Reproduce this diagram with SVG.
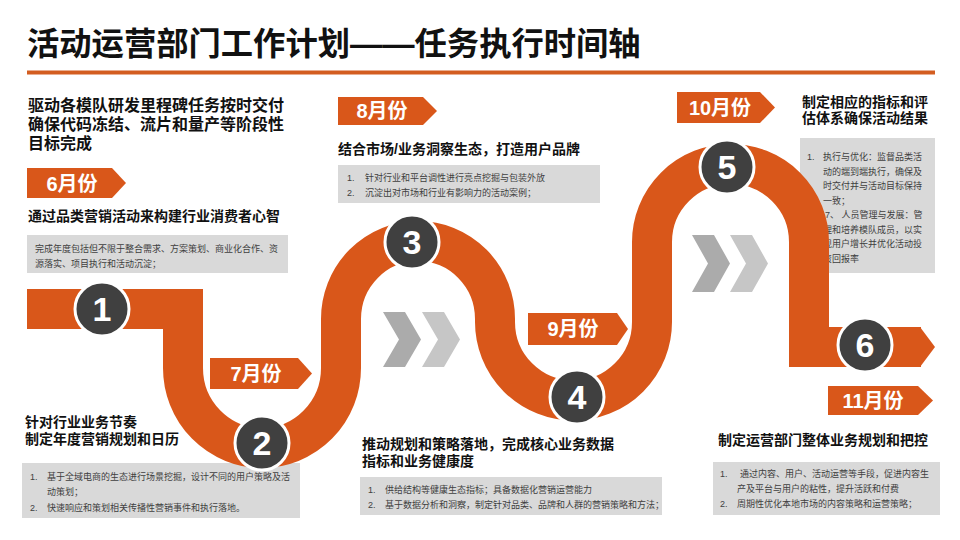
<svg xmlns="http://www.w3.org/2000/svg" width="960" height="540" viewBox="0 0 960 540">
<style>
.h{font-family:"Liberation Sans","Noto Sans CJK SC",sans-serif;font-weight:bold;fill:#111;font-size:14px}
.h16{font-size:16px}
.box{fill:#D9D9D9}
.t{font-family:"Liberation Sans","Noto Sans CJK SC",sans-serif;fill:#404040;font-size:9px}
.mon{fill:#D9571A}
.mt{font-family:"Liberation Sans","Noto Sans CJK SC",sans-serif;font-weight:bold;fill:#fff;font-size:20px;text-anchor:middle}
.c{fill:#404040;stroke:#fff;stroke-width:3}
.ct{font-family:"Liberation Sans","Noto Sans CJK SC",sans-serif;font-weight:bold;fill:#fff;font-size:34px;text-anchor:middle}
.chev1{fill:#ABABAB}
.chev2{fill:#C6C6C6}
</style>
<rect width="960" height="540" fill="#fff"/>
<g id="title">
<text x="27" y="55" font-family="Liberation Sans,Noto Sans CJK SC,sans-serif" font-weight="bold" font-size="32.3" fill="#111">活动运营部门工作计划——任务执行时间轴</text>
<rect x="27" y="70.5" width="908" height="4" fill="#D35D20"/>
</g>
<g id="boxes">
<rect class="box" x="27" y="235" width="261" height="38"/>
<rect class="box" x="338" y="165" width="262" height="38"/>
<rect class="box" x="800" y="138" width="135" height="135"/>
<rect class="box" x="22" y="463" width="278" height="55"/>
<rect class="box" x="360" y="477" width="302" height="38"/>
<rect class="box" x="713" y="462" width="227" height="53"/>
</g>
<g id="box-texts">
<text class="t" x="35" y="252">完成年度包括但不限于整合需求、方案策划、商业化合作、资</text>
<text class="t" x="35" y="267">源落实、项目执行和活动沉淀；</text>
<text class="t" x="347" y="181">1.</text><text class="t" x="365" y="181">针对行业和平台调性进行亮点挖掘与包装外放</text>
<text class="t" x="347" y="196">2.</text><text class="t" x="365" y="196">沉淀出对市场和行业有影响力的活动案例；</text>
<text class="t" x="807" y="160">1.</text>
<text class="t" x="823" y="160">执行与优化：监督品类活</text>
<text class="t" x="823" y="174.5">动的端到端执行，确保及</text>
<text class="t" x="823" y="189">时交付并与活动目标保持</text>
<text class="t" x="823" y="203.5">一致；</text>
<text class="t" x="825" y="218">7、 人员管理与发展：管</text>
<text class="t" x="823" y="232.5">理和培养模队成员，以实</text>
<text class="t" x="823" y="247">现用户增长并优化活动投</text>
<text class="t" x="823" y="261.5">资回报率</text>
<text class="t" x="30" y="480">1.</text><text class="t" x="47" y="480">基于全域电商的生态进行场景挖掘，设计不同的用户策略及活</text>
<text class="t" x="47" y="495">动策划；</text>
<text class="t" x="30" y="511">2.</text><text class="t" x="47" y="511">快速响应和策划相关传播性营销事件和执行落地。</text>
<text class="t" x="368" y="493">1.</text><text class="t" x="385" y="493">供给结构等健康生态指标；具备数据化营销运营能力</text>
<text class="t" x="368" y="508">2.</text><text class="t" x="385" y="508">基于数据分析和洞察，制定针对品类、品牌和人群的营销策略和方法；</text>
<text class="t" x="720" y="477">1.</text><text class="t" x="740" y="477">通过内容、用户、活动运营等手段，促进内容生</text>
<text class="t" x="737" y="492">产及平台与用户的粘性，提升活跃和付费</text>
<text class="t" x="720" y="507">2.</text><text class="t" x="737" y="507">周期性优化本地市场的内容策略和运营策略；</text>
</g>
<g id="connectors">
<path d="M27,309 H183 V368 A79,80 0 0 0 341,368 V319 A77,78 0 0 1 495,319 V322 A78.5,78.5 0 0 0 652,322 V242 A78.5,78 0 0 1 809,242 V347 H921" fill="none" stroke="#D9571A" stroke-width="40" stroke-linejoin="miter"/>
<polygon points="920,327 935,347 920,367" fill="#D9571A"/>
</g>
<g id="chevrons">
<polygon class="chev1" points="383,312 405,312 421,339.5 405,367 383,367 399,339.5"/>
<polygon class="chev2" points="422,312 444,312 460,339.5 444,367 422,367 438,339.5"/>
<polygon class="chev1" points="692,235 714,235 730,263.5 714,292 692,292 708,263.5"/>
<polygon class="chev2" points="730,235 752,235 768,263.5 752,292 730,292 746,263.5"/>
</g>
<g id="headings">
<text class="h h16" x="28" y="111">驱动各模队研发里程碑任务按时交付</text>
<text class="h h16" x="28" y="130">确保代码冻结、流片和量产等阶段性</text>
<text class="h h16" x="28" y="148.5">目标完成</text>
<text class="h" x="28" y="221">通过品类营销活动来构建行业消费者心智</text>
<text class="h" x="338" y="154">结合市场/业务洞察生态，打造用户品牌</text>
<text class="h" x="802" y="107">制定相应的指标和评</text>
<text class="h" x="802" y="122.5">估体系确保活动结果</text>
<text class="h" x="25" y="427">针对行业业务节奏</text>
<text class="h" x="25" y="444">制定年度营销规划和日历</text>
<text class="h" x="362" y="449">推动规划和策略落地，完成核心业务数据</text>
<text class="h" x="362" y="466">指标和业务健康度</text>
<text class="h" x="718" y="445">制定运营部门整体业务规划和把控</text>
</g>
<g id="m6"><polygon class="mon" points="27,168 112,168 126,183 112,198 27,198"/><text class="mt" x="72" y="191">6月份</text></g>
<g id="m7"><polygon class="mon" points="210,358 298,358 312,373.5 298,389 210,389"/><text class="mt" x="256" y="381">7月份</text></g>
<g id="m8"><polygon class="mon" points="338,97 423,97 437,111 423,125 338,125"/><text class="mt" x="382" y="118">8月份</text></g>
<g id="m9"><polygon class="mon" points="528,313 617,313 628,329 617,345 528,345"/><text class="mt" x="573" y="336">9月份</text></g>
<g id="m10"><polygon class="mon" points="677,92 760,92 775,107.5 760,123 677,123"/><text class="mt" x="720" y="114.5">10月份</text></g>
<g id="m11"><polygon class="mon" points="828,386 918,386 933,400.5 918,415 828,415"/><text class="mt" x="873" y="408">11月份</text></g>
<g id="n1"><circle class="c" cx="102" cy="309" r="27"/><text class="ct" x="102" y="321">1</text></g>
<g id="n2"><circle class="c" cx="262" cy="443" r="27"/><text class="ct" x="262" y="455">2</text></g>
<g id="n3"><circle class="c" cx="412" cy="242" r="27"/><text class="ct" x="412" y="254">3</text></g>
<g id="n4"><circle class="c" cx="577" cy="397" r="27"/><text class="ct" x="577" y="409">4</text></g>
<g id="n5"><circle class="c" cx="727" cy="167" r="27"/><text class="ct" x="727" y="179">5</text></g>
<g id="n6"><circle class="c" cx="865" cy="345" r="27"/><text class="ct" x="865" y="357">6</text></g>
</svg>
